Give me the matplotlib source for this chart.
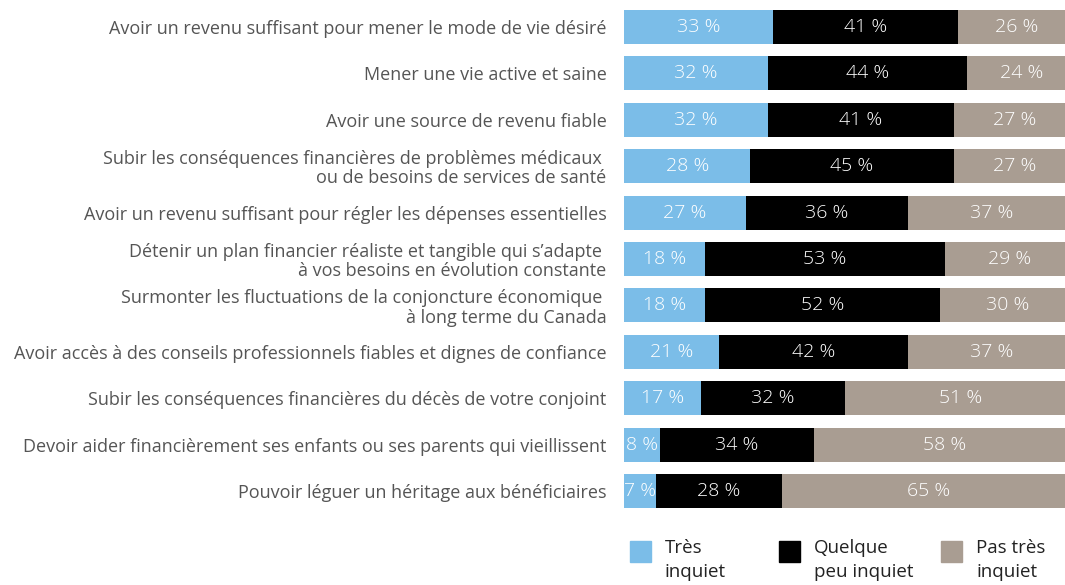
import matplotlib
matplotlib.use("Agg")
import matplotlib.pyplot as plt
from matplotlib.patches import Rectangle

categories = [
    "Avoir un revenu suffisant pour mener le mode de vie désiré",
    "Mener une vie active et saine",
    "Avoir une source de revenu fiable",
    "Subir les conséquences financières de problèmes médicaux \nou de besoins de services de santé",
    "Avoir un revenu suffisant pour régler les dépenses essentielles",
    "Détenir un plan financier réaliste et tangible qui s’adapte \nà vos besoins en évolution constante",
    "Surmonter les fluctuations de la conjoncture économique \nà long terme du Canada",
    "Avoir accès à des conseils professionnels fiables et dignes de confiance",
    "Subir les conséquences financières du décès de votre conjoint",
    "Devoir aider financièrement ses enfants ou ses parents qui vieillissent",
    "Pouvoir léguer un héritage aux bénéficiaires",
]
tres = [33, 32, 32, 28, 27, 18, 18, 21, 17, 8, 7]
quelque = [41, 44, 41, 45, 36, 53, 52, 42, 32, 34, 28]
pas_tres = [26, 24, 27, 27, 37, 29, 30, 37, 51, 58, 65]
series_names = ["Très\ninquiet", "Quelque\npeu inquiet", "Pas très\ninquiet"]
colors = ["#7BBDE8", "#000000", "#A99D92"]

plt.rcParams['font.family'] = ['Open Sans', 'DejaVu Sans']

W, H = 1065, 585
fig = plt.figure(figsize=(W / 100, H / 100), dpi=100)
ax_left, ax_right = 624, 1065
ax_top, ax_bot = 3.8, 514.2
ax = fig.add_axes([ax_left / W, 1 - ax_bot / H, (ax_right - ax_left) / W, (ax_bot - ax_top) / H])

y = list(range(len(categories)))
left = [0] * len(categories)
for vals, col in zip([tres, quelque, pas_tres], colors):
    ax.barh(y, vals, left=left, height=0.73, color=col, edgecolor='none')
    for i, v in enumerate(vals):
        ax.text(left[i] + v / 2, i, f"{v} %", ha='center', va='center',
                color='white', fontsize=14, fontweight='light')
    left = [l + v for l, v in zip(left, vals)]

ax.set_xlim(0, (ax_right - ax_left) / 4.515)
ax.set_ylim(len(categories) - 0.5, -0.5)
ax.set_yticks(y)
ax.set_yticklabels(categories, fontsize=13, color='#555555', linespacing=1.08)
ax.tick_params(axis='y', length=0, pad=12.5)
ax.set_xticks([])
for s in ax.spines.values():
    s.set_visible(False)

# legend
leg_x = [630, 779, 941]
for name, col, lx in zip(series_names, colors, leg_x):
    fig.add_artist(Rectangle((lx / W, 1 - 562 / H), 21 / W, 21 / H,
                             transform=fig.transFigure, color=col))
    fig.text((lx + 35) / W, 1 - 539 / H, name, ha='left', va='top',
             fontsize=13.5, color='#222222', linespacing=1.4)

fig.savefig("out.png", dpi=100)
